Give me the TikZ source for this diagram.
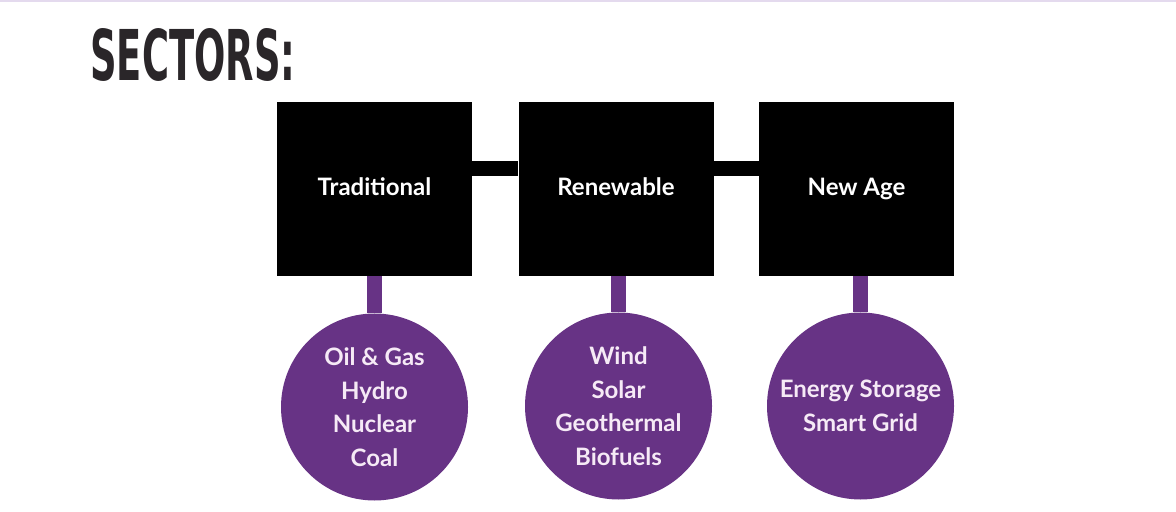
\documentclass[tikz,border=0pt]{standalone}
\usepackage{fontspec,graphicx}
\setmainfont{Lato}
\newfontfamily\headfont{DejaVu Sans}
\definecolor{secpurple}{RGB}{103,51,133}
\definecolor{headgray}{RGB}{42,38,41}
\definecolor{bubbletext}{RGB}{246,234,246}
\definecolor{topline}{RGB}{228,218,238}
\usetikzlibrary{positioning}

\begin{document}
\begin{tikzpicture}[x=0.5pt,y=-0.5pt,
  sector/.style={fill=black,text=white,minimum width=97.5pt,minimum height=87pt,inner sep=0pt,text height=1.6ex,text depth=0.3ex,font=\fontsize{12}{13}\selectfont\bfseries},
  bubble/.style={circle,fill=secpurple,text=bubbletext,minimum size=93.5pt,inner sep=0pt,align=center,font=\fontsize{12}{16.75}\selectfont\bfseries},
  link/.style={line width=7.5pt},
  stem/.style={secpurple,line width=7.5pt}]
  \useasboundingbox (0,0) rectangle (1176,512);
  \fill[topline] (0,0) rectangle (1176,2);
  \node[anchor=base west,inner sep=0pt,text=headgray] (title) at (90,81) {\resizebox{102.5pt}{26pt}{\headfont\bfseries SECTORS:}};
  \node[sector] (trad) at (374.5,189) {Traditional};
  \node[sector] (renew) at (616,189) {Renewable};
  \node[sector] (newage) at (856.5,189) {New Age};
  \node[bubble] (tradlist) at (374.5,407) {Oil \& Gas\\Hydro\\Nuclear\\Coal};
  \node[bubble] (renewlist) at (618.5,406) {Wind\\Solar\\Geothermal\\Biofuels};
  \node[bubble] (newagelist) at (860.5,406) {Energy Storage\\Smart Grid};
  \draw[link] ([yshift=10.25pt]trad.east) -- ([yshift=10.25pt]renew.west);
  \draw[link] ([yshift=10.25pt]renew.east) -- ([yshift=10.25pt]newage.west);
  \draw[stem] (tradlist.north) -- (tradlist.north |- trad.south);
  \draw[stem] (renewlist.north) -- (renewlist.north |- renew.south);
  \draw[stem] (newagelist.north) -- (newagelist.north |- newage.south);
\end{tikzpicture}
\end{document}
